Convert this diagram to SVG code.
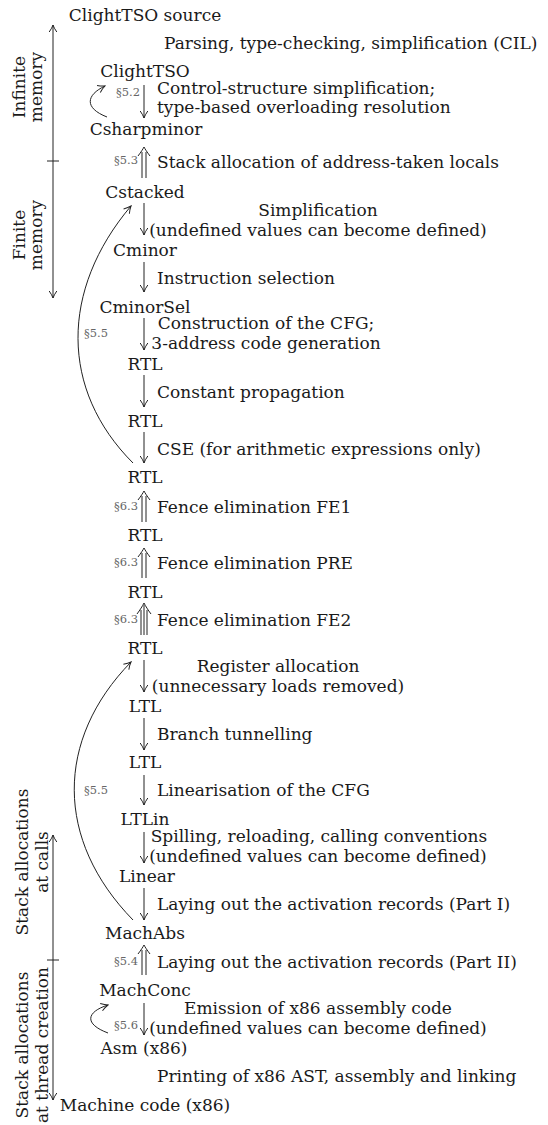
<svg xmlns="http://www.w3.org/2000/svg" width="548" height="1125" viewBox="0 0 548 1125">
<style>
.t{font-family:"DejaVu Serif","Liberation Serif",serif;font-size:17px;fill:#1a1a1a}
.n{text-anchor:middle}
.c{text-anchor:middle}
.s{font-family:"DejaVu Serif","Liberation Serif",serif;font-size:11.5px;fill:#666;text-anchor:end}
.ln{fill:none;stroke:#222;stroke-width:1}
</style>
<defs>
<marker id="ah" viewBox="-9 -5 10 10" refX="0" refY="0" markerWidth="10" markerHeight="10" markerUnits="userSpaceOnUse" orient="auto-start-reverse">
<path d="M-7,-3.8 Q-3,-1 0,0 Q-3,1 -7,3.8" fill="none" stroke="#222" stroke-width="1"/>
</marker>
</defs>
<rect width="548" height="1125" fill="#fff"/>

<g id="axes">
<line class="ln" x1="53" y1="25" x2="53" y2="298" marker-start="url(#ah)" marker-end="url(#ah)"/>
<line class="ln" x1="47" y1="161" x2="59" y2="161"/>
<line class="ln" x1="53" y1="835" x2="53" y2="1100" marker-start="url(#ah)" marker-end="url(#ah)"/>
<line class="ln" x1="47" y1="960" x2="59" y2="960"/>
<text class="t c" transform="translate(25,87) rotate(-90)">Infinite</text>
<text class="t c" transform="translate(42,87) rotate(-90)">memory</text>
<text class="t c" transform="translate(25,235) rotate(-90)">Finite</text>
<text class="t c" transform="translate(42,235) rotate(-90)">memory</text>
<text class="t c" transform="translate(28,862) rotate(-90)">Stack allocations</text>
<text class="t c" transform="translate(48,862) rotate(-90)">at calls</text>
<text class="t c" transform="translate(28,1045) rotate(-90)">Stack allocations</text>
<text class="t c" transform="translate(48,1045) rotate(-90)">at thread creation</text>
</g>

<g id="nodes">
<g id="n-src"><text class="t n" x="145" y="21">ClightTSO source</text></g>
<g id="n-clight"><text class="t n" x="145" y="77">ClightTSO</text></g>
<g id="n-csharp"><text class="t n" x="146" y="135">Csharpminor</text></g>
<g id="n-cstacked"><text class="t n" x="145" y="198">Cstacked</text></g>
<g id="n-cminor"><text class="t n" x="145" y="256">Cminor</text></g>
<g id="n-cminorsel"><text class="t n" x="145" y="313">CminorSel</text></g>
<g id="n-rtl1"><text class="t n" x="145" y="370">RTL</text></g>
<g id="n-rtl2"><text class="t n" x="145" y="427">RTL</text></g>
<g id="n-rtl3"><text class="t n" x="145" y="483">RTL</text></g>
<g id="n-rtl4"><text class="t n" x="145" y="541">RTL</text></g>
<g id="n-rtl5"><text class="t n" x="145" y="598">RTL</text></g>
<g id="n-rtl6"><text class="t n" x="145" y="654">RTL</text></g>
<g id="n-ltl1"><text class="t n" x="145" y="712">LTL</text></g>
<g id="n-ltl2"><text class="t n" x="145" y="768">LTL</text></g>
<g id="n-ltlin"><text class="t n" x="145" y="825">LTLin</text></g>
<g id="n-linear"><text class="t n" x="147" y="882">Linear</text></g>
<g id="n-machabs"><text class="t n" x="145" y="939">MachAbs</text></g>
<g id="n-machconc"><text class="t n" x="145" y="996">MachConc</text></g>
<g id="n-asm"><text class="t n" x="144" y="1054">Asm (x86)</text></g>
<g id="n-mc"><text class="t n" x="145" y="1111">Machine code (x86)</text></g>
</g>

<g id="connectors">
<line class="ln" x1="144" y1="85" x2="144" y2="118" marker-end="url(#ah)"/>
<line class="ln" x1="144" y1="203" x2="144" y2="235" marker-end="url(#ah)"/>
<line class="ln" x1="144" y1="262" x2="144" y2="292" marker-end="url(#ah)"/>
<line class="ln" x1="144" y1="318" x2="144" y2="350" marker-end="url(#ah)"/>
<line class="ln" x1="144" y1="375" x2="144" y2="407" marker-end="url(#ah)"/>
<line class="ln" x1="144" y1="432" x2="144" y2="463" marker-end="url(#ah)"/>
<line class="ln" x1="144" y1="660" x2="144" y2="692" marker-end="url(#ah)"/>
<line class="ln" x1="144" y1="718" x2="144" y2="750" marker-end="url(#ah)"/>
<line class="ln" x1="144" y1="775" x2="144" y2="805" marker-end="url(#ah)"/>
<line class="ln" x1="144" y1="832" x2="144" y2="863" marker-end="url(#ah)"/>
<line class="ln" x1="144" y1="888" x2="144" y2="920" marker-end="url(#ah)"/>
<line class="ln" x1="144" y1="1003" x2="144" y2="1035" marker-end="url(#ah)"/>
<!-- double up arrows -->
<path class="ln" d="M142,178V152M146,178V152M138,156C141,152 143,149 144,147C145,149 147,152 150,156"/>
<path class="ln" d="M142,522V496M146,522V496M138,500C141,496 143,493 144,491C145,493 147,496 150,500"/>
<path class="ln" d="M142,578V553M146,578V553M138,557C141,553 143,550 144,548C145,550 147,553 150,557"/>
<path class="ln" d="M142,975V950M146,975V950M138,954C141,950 143,947 144,945C145,947 147,950 150,954"/>
<!-- triple up arrow -->
<path class="ln" d="M141,635V610M144,635V605M147,635V610M137,614C140,610 142.5,606 144,603C145.5,606 148,610 151,614"/>
<!-- loops -->
<path class="ln" d="M107,117C84,108 86,95 105,86" marker-end="url(#ah)"/>
<path class="ln" d="M108,1033C84,1024 86,1012 108,1005" marker-end="url(#ah)"/>
<!-- big curves -->
<path class="ln" d="M133,463C60,390 60,290 131,206" marker-end="url(#ah)"/>
<path class="ln" d="M133,920C55,840 55,740 131,662" marker-end="url(#ah)"/>
</g>

<g id="labels">
<text class="t" x="164" y="49">Parsing, type-checking, simplification (CIL)</text>
<text class="t" x="157" y="94">Control-structure simplification;</text>
<text class="t" x="157" y="113">type-based overloading resolution</text>
<text class="t" x="157" y="168">Stack allocation of address-taken locals</text>
<text class="t c" x="318" y="216">Simplification</text>
<text class="t c" x="318" y="236">(undefined values can become defined)</text>
<text class="t" x="157" y="284">Instruction selection</text>
<text class="t c" x="266" y="329">Construction of the CFG;</text>
<text class="t c" x="266" y="349">3-address code generation</text>
<text class="t" x="157" y="398">Constant propagation</text>
<text class="t" x="157" y="455">CSE (for arithmetic expressions only)</text>
<text class="t" x="157" y="513">Fence elimination FE1</text>
<text class="t" x="157" y="569">Fence elimination PRE</text>
<text class="t" x="157" y="626">Fence elimination FE2</text>
<text class="t c" x="278" y="672">Register allocation</text>
<text class="t c" x="278" y="692">(unnecessary loads removed)</text>
<text class="t" x="157" y="740">Branch tunnelling</text>
<text class="t" x="157" y="796">Linearisation of the CFG</text>
<text class="t c" x="319" y="842">Spilling, reloading, calling conventions</text>
<text class="t c" x="318" y="862">(undefined values can become defined)</text>
<text class="t" x="157" y="910">Laying out the activation records (Part I)</text>
<text class="t" x="157" y="968">Laying out the activation records (Part II)</text>
<text class="t c" x="318" y="1014">Emission of x86 assembly code</text>
<text class="t c" x="318" y="1034">(undefined values can become defined)</text>
<text class="t" x="157" y="1082">Printing of x86 AST, assembly and linking</text>
<text class="s" x="140" y="96">§5.2</text>
<text class="s" x="138" y="164">§5.3</text>
<text class="s" x="108" y="337">§5.5</text>
<text class="s" x="138" y="510">§6.3</text>
<text class="s" x="138" y="566">§6.3</text>
<text class="s" x="138" y="623">§6.3</text>
<text class="s" x="108" y="794">§5.5</text>
<text class="s" x="138" y="965">§5.4</text>
<text class="s" x="138" y="1029">§5.6</text>
</g>
</svg>
